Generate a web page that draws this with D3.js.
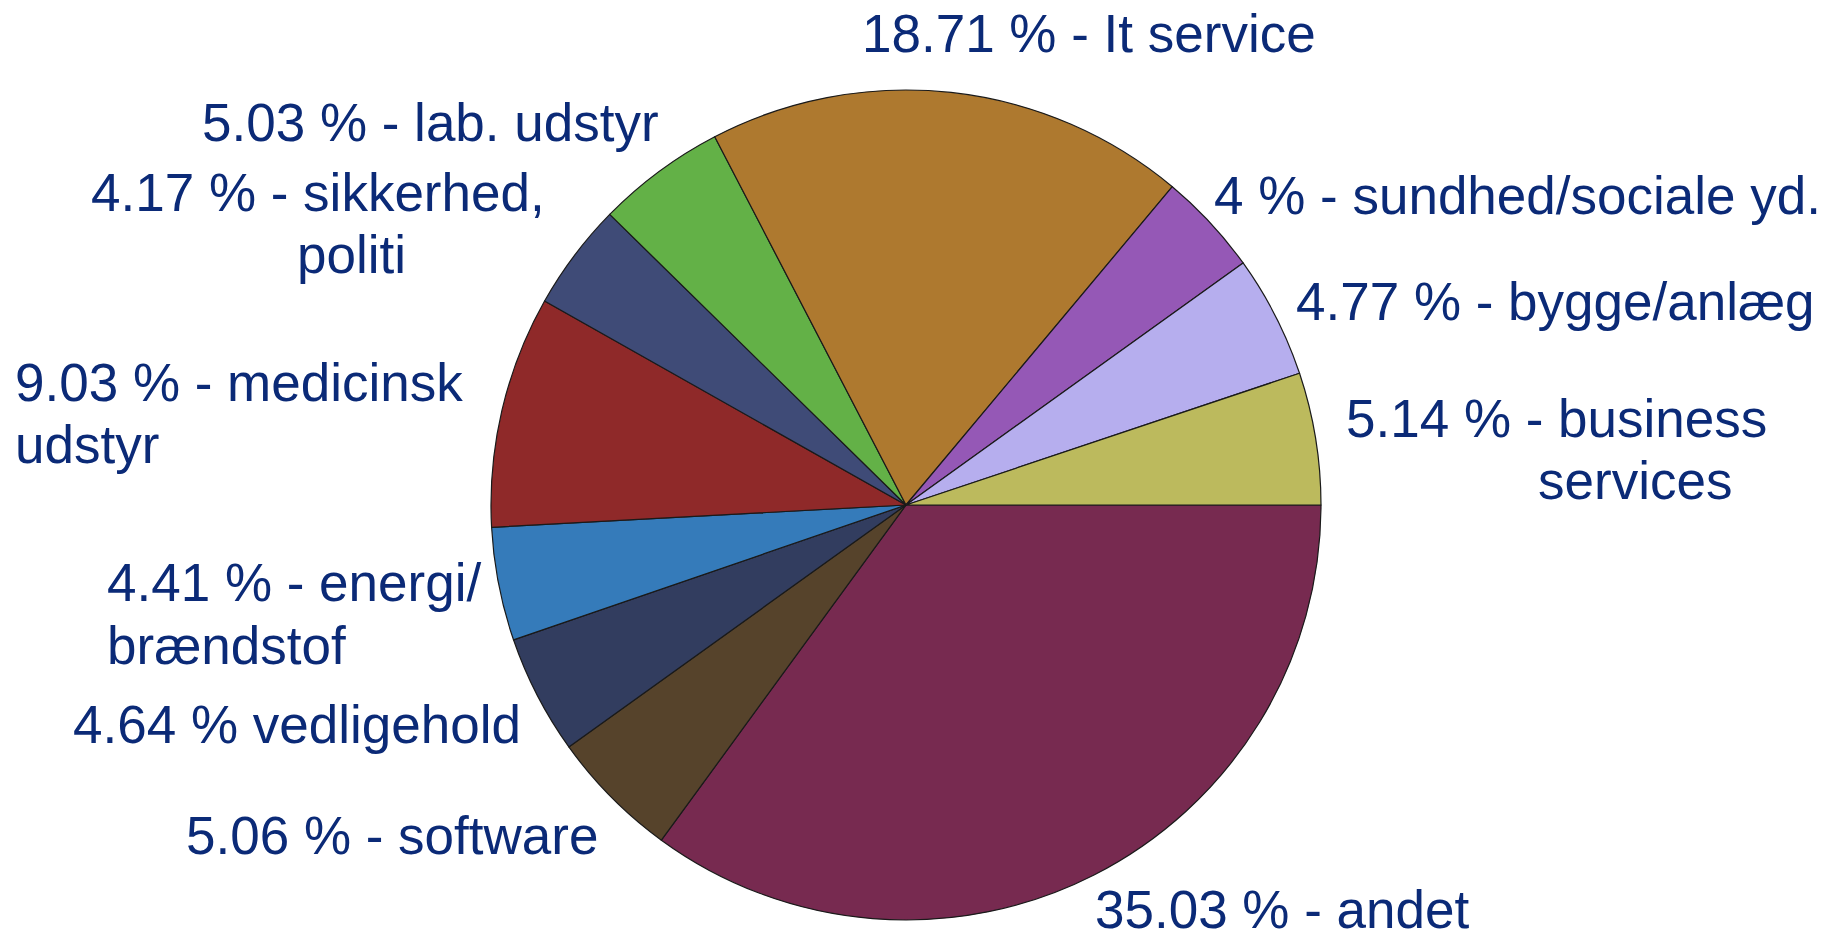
<!DOCTYPE html>
<html>
<head>
<meta charset="utf-8">
<script src="https://cdn.jsdelivr.net/npm/d3@7"></script>
<style>
    html, body { margin: 0; padding: 0; background: #fff; }
    #container { width: 1827px; height: 932px; }
</style>
</head>
<body>
<div id="container"></div>
<script>
const d3 = window.d3;

/* data, clockwise from 3 o'clock */
const categories = ['andet', 'software', 'vedligehold', 'energi/brændstof', 'medicinsk udstyr',
    'sikkerhed, politi', 'lab. udstyr', 'It service', 'sundhed/sociale yd.', 'bygge/anlæg', 'business services'];
const shares = [35.03, 5.06, 4.64, 4.41, 9.03, 4.17, 5.03, 18.71, 4, 4.77, 5.14];
const labelLines = [
    ['35.03 % - andet'],
    ['5.06 % - software'],
    ['4.64 % vedligehold'],
    ['4.41 % - energi/', 'brændstof'],
    ['9.03 % - medicinsk', 'udstyr'],
    ['4.17 % - sikkerhed,', 'politi'],
    ['5.03 % - lab. udstyr'],
    ['18.71 % - It service'],
    ['4 % - sundhed/sociale yd.'],
    ['4.77 % - bygge/anlæg'],
    ['5.14 % - business', 'services']
];
const sliceColors = ['#772a50', '#56432b', '#323d5f', '#357bba', '#8f2929',
    '#3f4b77', '#63b147', '#ae792f', '#9558b6', '#b6aeee', '#bcba5d'];

/* layout: [x, baseline] for each label line, same order */
const labelAnchors = [
    [[1095, 928]],
    [[186, 854]],
    [[73, 743]],
    [[107, 601], [107, 664]],
    [[15, 401], [15, 463]],
    [[91, 211], [297, 273]],
    [[202, 141]],
    [[862, 52]],
    [[1214, 214]],
    [[1296, 320]],
    [[1346, 437], [1538, 499]]
];

const width = 1827, height = 932;
const cx = 906, cy = 505, radius = 415;

const svg = d3.select('#container')
    .append('svg')
    .attr('width', width)
    .attr('height', height);

const slices = categories.map((name, i) => ({
    name: name,
    value: shares[i],
    color: sliceColors[i],
    lines: labelLines[i],
    anchors: labelAnchors[i]
}));

const pie = d3.pie()
    .sort(null)
    .value((d) => d.value)
    .startAngle(Math.PI / 2)
    .endAngle(Math.PI / 2 + 2 * Math.PI);

const arc = d3.arc()
    .innerRadius(0)
    .outerRadius(radius);

const chart = svg.append('g')
    .attr('class', 'pie')
    .attr('transform', `translate(${cx},${cy})`);

chart.selectAll('.slice')
    .data(pie(slices))
    .enter().append('path')
    .attr('class', 'slice')
    .attr('d', arc)
    .attr('fill', (d) => d.data.color)
    .attr('stroke', '#1a1a1a')
    .attr('stroke-width', 1.2)
    .attr('stroke-linejoin', 'round');

/* labels */
const labels = svg.append('g').attr('class', 'labels');

slices.forEach((s) => {
    s.lines.forEach((line, j) => {
        labels.append('text')
            .attr('x', s.anchors[j][0])
            .attr('y', s.anchors[j][1])
            .attr('font-family', '"Liberation Sans", Arial, sans-serif')
            .attr('font-size', '53px')
            .attr('fill', '#0b2a77')
            .text(line);
    });
});
</script>
</body>
</html>
